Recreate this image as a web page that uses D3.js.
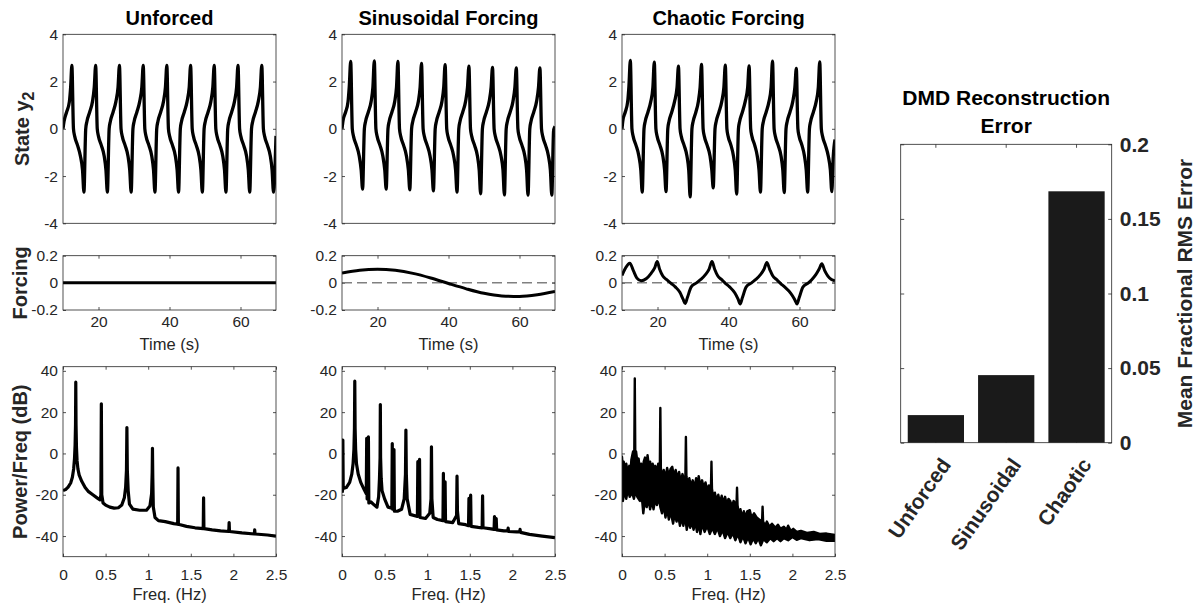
<!DOCTYPE html>
<html><head><meta charset="utf-8">
<script src="https://cdn.jsdelivr.net/npm/d3@7"></script>
<style>
body{margin:0;background:#fff;}
svg{display:block;font-family:"Liberation Sans",Arial,Helvetica,sans-serif;}
</style></head><body>
<svg id="c" width="1201" height="608"></svg>
<script>
// ---------------- DATA ----------------
const panelTitles = ["Unforced", "Sinusoidal Forcing", "Chaotic Forcing"];
const stateTicks = [-4, -2, 0, 2, 4];
const forceTicks = [-0.2, 0, 0.2];
const timeTicks = [20, 40, 60];
const freqTicks = [0, 0.5, 1, 1.5, 2, 2.5];
const specTicks = [-40, -20, 0, 20, 40];
const timeDomain = [10, 70];
const stateDomain = [-4, 4];
const forceDomain = [-0.2, 0.2];
const freqDomain = [0, 2.5];
const specDomain = [-50, 42];

// state y2 (time s, value)
const stateUnforced = [
[10,0],[10.3,0.32],[11,0.7],[11.8,1.15],[12.15,1.75],
[12.5,2.68],[12.95,0],[13.3,-0.32],[14.1,-0.7],[14.9,-1.15],[15.5,-1.75],[15.9,-2.68],[16.4,0],[16.75,0.32],[17.5,0.7],[18.3,1.15],[18.8,1.75],
[19.2,2.68],[19.65,0],[20,-0.32],[20.8,-0.7],[21.6,-1.15],[22.1,-1.75],[22.5,-2.68],[23,0],[23.35,0.32],[24.1,0.7],[24.9,1.15],[25.5,1.75],
[25.9,2.68],[26.35,0],[26.7,-0.32],[27.5,-0.7],[28.3,-1.15],[28.8,-1.75],[29.2,-2.68],[29.7,0],[30.05,0.32],[30.8,0.7],[31.6,1.15],[32.2,1.75],
[32.6,2.68],[33.05,0],[33.4,-0.32],[34.2,-0.7],[35,-1.15],[35.5,-1.75],[35.9,-2.68],[36.4,0],[36.75,0.32],[37.5,0.7],[38.3,1.15],[38.85,1.75],
[39.25,2.68],[39.7,0],[40.05,-0.32],[40.85,-0.7],[41.65,-1.15],[42.15,-1.75],[42.55,-2.68],[43.05,0],[43.4,0.32],[44.15,0.7],[44.95,1.15],[45.55,1.75],
[45.95,2.68],[46.4,0],[46.75,-0.32],[47.55,-0.7],[48.35,-1.15],[48.85,-1.75],[49.25,-2.68],[49.75,0],[50.1,0.32],[50.85,0.7],[51.65,1.15],[52.2,1.75],
[52.6,2.68],[53.05,0],[53.4,-0.32],[54.2,-0.7],[55,-1.15],[55.5,-1.75],[55.9,-2.68],[56.4,0],[56.75,0.32],[57.5,0.7],[58.3,1.15],[58.9,1.75],
[59.3,2.68],[59.75,0],[60.1,-0.32],[60.9,-0.7],[61.7,-1.15],[62.2,-1.75],[62.6,-2.68],[63.1,0],[63.45,0.32],[64.2,0.7],[65,1.15],[65.6,1.75],
[66,2.68],[66.45,0],[66.8,-0.32],[67.6,-0.7],[68.4,-1.15],[68.9,-1.75],[69.3,-2.68],[70,-0.3]
];
const stateSinusoidal = [
[10,0],[10.3,0.35],[11,0.7],[11.7,1.15],[12.05,1.8],
[12.45,2.85],[12.9,0],[13.25,-0.32],[14.05,-0.7],[14.85,-1.15],[15.4,-1.75],[15.8,-2.55],[16.3,0],[16.65,0.32],[17.4,0.7],[18.2,1.15],[18.7,1.75],
[19.1,2.87],[19.55,0],[19.9,-0.32],[20.7,-0.7],[21.5,-1.15],[22.05,-1.75],[22.45,-2.55],[22.95,0],[23.3,0.32],[24.05,0.7],[24.85,1.15],[25.35,1.75],
[25.75,2.85],[26.2,0],[26.55,-0.32],[27.35,-0.7],[28.15,-1.15],[28.7,-1.75],[29.1,-2.58],[29.6,0],[29.95,0.32],[30.7,0.7],[31.5,1.15],[32,1.75],
[32.4,2.77],[32.85,0],[33.2,-0.32],[34,-0.7],[34.8,-1.15],[35.35,-1.75],[35.75,-2.63],[36.25,0],[36.6,0.32],[37.35,0.7],[38.15,1.15],[38.65,1.75],
[39.05,2.72],[39.5,0],[39.85,-0.32],[40.65,-0.7],[41.45,-1.15],[42,-1.75],[42.4,-2.68],[42.9,0],[43.25,0.32],[44,0.7],[44.8,1.15],[45.35,1.75],
[45.75,2.65],[46.2,0],[46.55,-0.32],[47.35,-0.7],[48.15,-1.15],[48.65,-1.75],[49.05,-2.75],[49.55,0],[49.9,0.32],[50.65,0.7],[51.45,1.15],[52,1.75],
[52.4,2.6],[52.85,0],[53.2,-0.32],[54,-0.7],[54.8,-1.15],[55.35,-1.75],[55.75,-2.8],[56.25,0],[56.6,0.32],[57.35,0.7],[58.15,1.15],[58.7,1.75],
[59.1,2.58],[59.55,0],[59.9,-0.32],[60.7,-0.7],[61.5,-1.15],[62,-1.75],[62.4,-2.81],[62.9,0],[63.25,0.32],[64,0.7],[64.8,1.15],[65.35,1.75],
[65.75,2.58],[66.2,0],[66.55,-0.32],[67.35,-0.7],[68.15,-1.15],[68.7,-1.75],[69.1,-2.81],[69.6,-0.1],[70,0.1]
];
const stateChaotic = [
[10,0],[10.25,0.35],[10.9,0.7],[11.6,1.15],[11.95,1.8],
[12.35,2.89],[12.8,0],[13.15,-0.32],[13.95,-0.7],[14.75,-1.15],[15.3,-1.75],[15.7,-2.68],[16.2,0],[16.55,0.32],[17.3,0.7],[18.1,1.15],[18.7,1.75],
[19.1,2.82],[19.55,0],[19.9,-0.32],[20.7,-0.7],[21.5,-1.15],[22,-1.75],[22.4,-2.66],[22.9,0],[23.25,0.32],[24,0.7],[24.8,1.15],[25.5,1.75],
[25.9,2.65],[26.35,0],[26.7,-0.32],[27.5,-0.7],[28.3,-1.15],[28.8,-1.75],[29.2,-2.88],[29.7,0],[30.05,0.32],[30.8,0.7],[31.5,1.15],[32,1.75],
[32.4,2.73],[32.85,0],[33.2,-0.32],[34,-0.7],[34.8,-1.15],[35.3,-1.75],[35.7,-2.5],[36.2,0],[36.55,0.32],[37.3,0.7],[38.1,1.15],[38.7,1.75],
[39.1,2.69],[39.55,0],[39.9,-0.32],[40.7,-0.7],[41.4,-1.15],[41.9,-1.75],[42.3,-2.76],[42.8,0],[43.15,0.32],[43.9,0.7],[44.7,1.15],[45.4,1.75],
[45.8,2.66],[46.25,0],[46.6,-0.32],[47.4,-0.7],[48.1,-1.15],[48.6,-1.75],[49,-2.68],[49.5,0],[49.85,0.32],[50.6,0.7],[51.4,1.15],[52,1.75],
[52.4,2.86],[52.85,0],[53.2,-0.32],[54,-0.7],[54.8,-1.15],[55.3,-1.75],[55.7,-2.7],[56.2,0],[56.55,0.32],[57.3,0.7],[58.1,1.15],[58.7,1.75],
[59.1,2.56],[59.55,0],[59.9,-0.32],[60.7,-0.7],[61.4,-1.15],[61.9,-1.75],[62.3,-2.68],[62.8,0],[63.15,0.32],[63.9,0.7],[64.7,1.15],[65.3,1.75],
[65.7,2.83],[66.15,0],[66.5,-0.32],[67.3,-0.7],[68.1,-1.15],[68.7,-1.75],[69.1,-2.66],[69.5,-1.2],[70,-0.45]
];

// forcing (time s, value)
const forcingUnforced = [[10,0],[70,0]];
const forcingSinusoidal = [[10,0.072],[15,0.093],[20,0.1],[25,0.092],[30,0.07],[35,0.036],[40,-0.005],[45,-0.044],[50,-0.077],[55,-0.096],[60,-0.1],[65,-0.088],[70,-0.064]];
const forcingChaotic = [
[10,0.055],[11,0.11],[12.2,0.145],[13.2,0.09],[14.2,0.035],[15.4,0.015],[16.8,0.03],[18.2,0.07],[19.2,0.11],[19.9,0.157],[20.6,0.1],[21.5,0.05],[22.5,0.025],[23.9,-0.005],[25,-0.03],[26.3,-0.07],[27.2,-0.12],[27.8,-0.152],[28.4,-0.11],[29.5,-0.03],[31,0],[32.2,0.025],[33.5,0.06],[34.5,0.1],[35.35,0.157],[36.1,0.1],[37,0.05],[38,0.025],[39.2,-0.005],[40.3,-0.03],[41.8,-0.075],[42.7,-0.12],[43.3,-0.155],[43.9,-0.11],[45,-0.03],[46.5,0],[47.7,0.025],[49,0.06],[50,0.1],[50.8,0.15],[51.6,0.1],[52.5,0.05],[53.5,0.025],[54.7,-0.005],[55.8,-0.03],[57.5,-0.075],[58.6,-0.12],[59.3,-0.155],[59.9,-0.11],[61,-0.03],[62.5,0],[63.5,0.025],[64.6,0.06],[65.5,0.1],[66.3,0.14],[67.1,0.09],[68,0.05],[69,0.025],[70,0.015]
];

// spectra (Hz, dB)
const spectrumUnforced = [
[0,-18],[0.03,-17.5],[0.06,-16.3],[0.09,-14.3],[0.11,-11.5],[0.125,-7.5],[0.135,-2.5],[0.142,4],[0.147,14],[0.15,34.5],[0.153,14],[0.158,3],[0.165,-3.5],[0.175,-7.5],[0.19,-10.5],[0.22,-13.5],[0.26,-16.5],[0.3,-18.5],[0.35,-20],[0.4,-21.5],[0.435,-22.5],[0.445,-20],[0.45,24],[0.455,-20],[0.47,-24],[0.5,-25],[0.55,-26],[0.6,-26.5],[0.65,-26.3],[0.69,-25],[0.72,-21.5],[0.735,-16.5],[0.745,-8],[0.75,12.5],[0.755,-8],[0.765,-18],[0.78,-24.5],[0.82,-27],[0.9,-27.5],[0.98,-27.5],[1.02,-25.5],[1.04,-19.5],[1.047,-9],[1.05,2.5],[1.054,-12],[1.06,-26],[1.08,-31],[1.12,-32.5],[1.2,-33],[1.3,-34],[1.346,-34.3],[1.35,-7],[1.354,-34.3],[1.45,-35.3],[1.55,-36],[1.646,-36.4],[1.65,-21.5],[1.654,-36.4],[1.75,-37],[1.85,-37.5],[1.946,-37.8],[1.95,-33.5],[1.954,-37.8],[2.1,-38.5],[2.246,-39],[2.25,-37],[2.254,-39],[2.4,-39.5],[2.5,-40]
];
const spectrumSinusoidal = [
[0,-19],[0.006,-18],[0.01,6.5],[0.014,-17],[0.05,-16.5],[0.09,-14],[0.115,-10],[0.13,-5],[0.14,2],[0.146,12],[0.15,35],[0.154,12],[0.16,2],[0.17,-5],[0.19,-10],[0.22,-14],[0.26,-17.5],[0.285,-19.5],[0.29,7.3],[0.295,-22],[0.305,-22],[0.31,8],[0.315,-24],[0.34,-23.5],[0.38,-25],[0.41,-26],[0.43,-21],[0.44,-12],[0.447,-2],[0.45,23.7],[0.453,-2],[0.46,-12],[0.47,-18],[0.5,-22],[0.54,-26],[0.585,-26.5],[0.59,4.8],[0.595,-27],[0.605,-27],[0.61,1.9],[0.615,-28],[0.65,-28],[0.7,-27],[0.73,-22],[0.745,-10],[0.75,11.3],[0.755,-10],[0.765,-22],[0.8,-29.5],[0.885,-30.5],[0.89,-4],[0.895,-30],[0.905,-30],[0.91,-2.9],[0.915,-31],[0.98,-31.5],[1.03,-29],[1.045,-22],[1.05,3.2],[1.055,-22],[1.07,-31],[1.12,-32],[1.185,-32.5],[1.19,-9.7],[1.195,-32.5],[1.205,-32.5],[1.21,-13.7],[1.215,-33],[1.3,-33.5],[1.345,-30],[1.35,-11],[1.355,-28],[1.37,-34],[1.45,-34.5],[1.485,-35],[1.49,-21.8],[1.495,-35],[1.505,-35],[1.51,-20.2],[1.515,-35.3],[1.6,-35.8],[1.645,-36],[1.65,-20.5],[1.655,-36],[1.75,-36.5],[1.785,-36.8],[1.79,-30.6],[1.795,-36.8],[1.805,-36.8],[1.81,-31.5],[1.815,-37],[1.9,-37.5],[1.945,-37.5],[1.95,-36.2],[1.955,-37.8],[2.05,-38],[2.085,-38],[2.09,-36.8],[2.095,-38.2],[2.2,-39.2],[2.35,-40],[2.5,-40.8]
];
// chaotic spectrum: dense noisy band, upper and lower envelope
const spectrumChaoticUpper = [
[0,-1.6],[0.01,-8],[0.02,-4],[0.035,-9],[0.05,-5],[0.07,-10],[0.085,-6],[0.1,-9],[0.11,-3],[0.12,-1],[0.13,1],[0.144,-1],[0.15,36.3],[0.156,-1],[0.165,1],[0.18,-4],[0.195,-2.5],[0.21,-8],[0.225,-5],[0.24,-10],[0.255,-4],[0.27,-2],[0.285,-7],[0.3,-0.8],[0.315,-6],[0.33,-4],[0.345,-9],[0.36,-5],[0.375,-10],[0.39,-6],[0.41,-9],[0.425,-5],[0.444,-7],[0.45,22],[0.456,-7],[0.47,-12],[0.49,-8],[0.51,-12],[0.53,-7],[0.55,-11],[0.57,-7.5],[0.59,-6.5],[0.61,-11],[0.63,-8],[0.65,-12],[0.67,-9],[0.69,-14],[0.71,-10],[0.73,-13],[0.744,-11],[0.75,8],[0.756,-11],[0.77,-15],[0.79,-12],[0.81,-16],[0.83,-13],[0.85,-17],[0.87,-12],[0.89,-15],[0.9,-11],[0.92,-16],[0.94,-13],[0.96,-17],[0.98,-14],[1,-18],[1.02,-15.5],[1.044,-17],[1.05,-4],[1.056,-17],[1.07,-21],[1.09,-19],[1.11,-23],[1.13,-20],[1.15,-24],[1.17,-20.5],[1.19,-24],[1.21,-21],[1.23,-25],[1.25,-22],[1.27,-23],[1.29,-26],[1.31,-23],[1.344,-25],[1.35,-16.6],[1.356,-25],[1.37,-29],[1.39,-27],[1.41,-31],[1.43,-28],[1.45,-31],[1.47,-28],[1.5,-27.5],[1.52,-31],[1.55,-29],[1.58,-31],[1.61,-32],[1.644,-33],[1.65,-25.8],[1.656,-33],[1.68,-35],[1.7,-33],[1.73,-35.5],[1.76,-34],[1.8,-36],[1.83,-34.5],[1.86,-36.5],[1.9,-35.5],[1.93,-37],[1.95,-35],[1.98,-37.5],[2.01,-36.5],[2.05,-38],[2.1,-37.5],[2.17,-38.5],[2.25,-38],[2.32,-39],[2.4,-38.8],[2.5,-39.5]
];
const spectrumChaoticLower = [
[0,-9.7],[0.01,-23],[0.03,-18],[0.05,-22],[0.07,-17],[0.09,-21],[0.12,-19],[0.14,-22],[0.16,-18],[0.18,-21],[0.21,-23],[0.23,-20],[0.25,-29],[0.27,-22],[0.29,-26],[0.31,-22],[0.33,-27],[0.35,-23],[0.37,-27],[0.39,-22],[0.41,-25],[0.43,-21],[0.45,-26],[0.47,-29],[0.49,-25],[0.51,-31],[0.53,-27],[0.55,-32],[0.57,-28],[0.6,-34],[0.62,-29],[0.64,-33],[0.66,-30],[0.68,-35],[0.7,-31],[0.72,-35],[0.74,-30],[0.76,-37],[0.78,-32],[0.8,-36],[0.82,-33],[0.84,-37],[0.86,-33],[0.88,-38],[0.9,-34],[0.92,-39],[0.94,-34],[0.97,-38],[1,-35],[1.03,-39],[1.06,-36],[1.09,-39],[1.12,-36],[1.15,-40],[1.18,-37],[1.21,-41],[1.24,-38],[1.27,-41],[1.3,-38.5],[1.33,-42],[1.36,-39],[1.39,-43],[1.42,-40],[1.45,-43.5],[1.48,-40.5],[1.51,-44],[1.54,-41],[1.57,-43.5],[1.6,-41],[1.63,-44.5],[1.66,-41.5],[1.7,-43],[1.74,-41],[1.78,-42.5],[1.82,-41],[1.86,-42.5],[1.9,-41],[1.95,-42],[2,-40.5],[2.05,-41.8],[2.1,-41],[2.2,-42],[2.3,-41.5],[2.4,-42.3],[2.5,-42.3]
];

// bar chart
const barCategories = ["Unforced", "Sinusoidal", "Chaotic"];
const barErrors = [0.0185, 0.0453, 0.1685];
const barTicks = [0, 0.05, 0.1, 0.15, 0.2];
const barDomain = [0, 0.2];

// ---------------- LAYOUT / STYLE ----------------
const svg = d3.select("#c");
const AX = "#262626";
const cols = [[63,276],[342,555],[622,835]];
const rows = {state:[34.3,223.3], force:[255.7,310], spec:[366.7,556.7]};
const TICK_FS = 15.5;
const fmt = d => String(d);

function styleAxis(g, fs, fw){
  g.attr("font-family", null).attr("font-size", null);
  g.select(".domain").remove();
  g.selectAll(".tick line").attr("stroke", AX).attr("stroke-width", 0.8);
  g.selectAll(".tick text").attr("fill", AX).style("font-size", fs + "px").style("font-weight", fw || "normal");
  return g;
}

function panel(ci, rowKey, xDom, yDom, xt, yt, xLabels, xPad){
  const [x0,x1] = cols[ci]; const [y0,y1] = rows[rowKey];
  const x = d3.scaleLinear().domain(xDom).range([x0,x1]);
  const y = d3.scaleLinear().domain(yDom).range([y1,y0]);
  const g = svg.append("g");
  const id = `clip-${rowKey}-${ci}`;
  svg.append("clipPath").attr("id", id).append("rect")
    .attr("x", x0).attr("y", y0).attr("width", x1-x0).attr("height", y1-y0);
  g.append("rect").attr("x", x0).attr("y", y0).attr("width", x1-x0).attr("height", y1-y0)
    .attr("fill", "#fff");
  styleAxis(g.append("g").attr("transform", `translate(${x0},0)`)
    .call(d3.axisLeft(y).tickValues(yt).tickSizeInner(-3).tickSizeOuter(0).tickPadding(5).tickFormat(fmt)), TICK_FS);
  styleAxis(g.append("g").attr("transform", `translate(${x1},0)`)
    .call(d3.axisRight(y).tickValues(yt).tickSizeInner(-3).tickSizeOuter(0).tickFormat(() => "")), TICK_FS);
  if (xt) {
    styleAxis(g.append("g").attr("transform", `translate(0,${y1})`)
      .call(d3.axisBottom(x).tickValues(xt).tickSizeInner(-3).tickSizeOuter(0).tickPadding(xPad)
        .tickFormat(xLabels ? fmt : () => "")), TICK_FS);
    styleAxis(g.append("g").attr("transform", `translate(0,${y0})`)
      .call(d3.axisTop(x).tickValues(xt).tickSizeInner(-3).tickSizeOuter(0).tickFormat(() => "")), TICK_FS);
  }
  const content = g.append("g").attr("clip-path", `url(#${id})`);
  g.append("rect").attr("x", x0).attr("y", y0).attr("width", x1-x0).attr("height", y1-y0)
    .attr("fill", "none").attr("stroke", AX).attr("stroke-width", 0.8);
  return {x, y, content, g, x0, x1, y0, y1};
}

function drawLine(p, data, width, curve){
  const line = d3.line().x(d => p.x(d[0])).y(d => p.y(d[1])).curve(curve || d3.curveLinear);
  p.content.append("path").datum(data).attr("d", line)
    .attr("fill", "none").attr("stroke", "#000").attr("stroke-width", width)
    .attr("stroke-linejoin", "round").attr("stroke-linecap", "butt");
}

const stateSeries = [stateUnforced, stateSinusoidal, stateChaotic];
const forceSeries = [forcingUnforced, forcingSinusoidal, forcingChaotic];

for (let ci = 0; ci < 3; ci++) {
  const ps = panel(ci, "state", timeDomain, stateDomain, null, stateTicks, false, 0);
  drawLine(ps, stateSeries[ci], 3.3, d3.curveMonotoneX);

  const pf = panel(ci, "force", timeDomain, forceDomain, timeTicks, forceTicks, true, 5.5);
  if (ci > 0) {
    pf.content.append("line").attr("x1", pf.x0).attr("x2", pf.x1)
      .attr("y1", pf.y(0)).attr("y2", pf.y(0))
      .attr("stroke", "#808080").attr("stroke-width", 1.5).attr("stroke-dasharray", "10,5");
  }
  drawLine(pf, forceSeries[ci], 3, d3.curveMonotoneX);

  const pp = panel(ci, "spec", freqDomain, specDomain, freqTicks, specTicks, true, 12);
  if (ci === 0) drawLine(pp, spectrumUnforced, 3.2);
  if (ci === 1) drawLine(pp, spectrumSinusoidal, 3.2);
  if (ci === 2) {
    const band = spectrumChaoticUpper.concat(spectrumChaoticLower.slice().reverse());
    const line = d3.line().x(d => pp.x(d[0])).y(d => pp.y(d[1]));
    pp.content.append("path").attr("d", line(band) + "Z")
      .attr("fill", "#000").attr("stroke", "#000").attr("stroke-width", 2.4).attr("stroke-linejoin", "round");
  }

  const cx = (cols[ci][0] + cols[ci][1]) / 2;
  svg.append("text").attr("x", cx).attr("y", 25).attr("text-anchor", "middle")
    .style("font-size", "20px").style("font-weight", "bold").attr("fill", "#000").text(panelTitles[ci]);
  svg.append("text").attr("x", cx).attr("y", 350).attr("text-anchor", "middle")
    .style("font-size", "16.5px").attr("fill", AX).text("Time (s)");
  svg.append("text").attr("x", cx).attr("y", 600).attr("text-anchor", "middle")
    .style("font-size", "16.5px").attr("fill", AX).text("Freq. (Hz)");
}

// y labels
const yl1 = svg.append("text").attr("transform", `translate(29,${(rows.state[0]+rows.state[1])/2}) rotate(-90)`)
  .attr("text-anchor", "middle").style("font-size", "20px").style("font-weight", "bold").attr("fill", AX);
yl1.append("tspan").text("State y");
yl1.append("tspan").attr("dy", "0.3em").style("font-size", "16px").text("2");
svg.append("text").attr("transform", `translate(27,${(rows.force[0]+rows.force[1])/2}) rotate(-90)`)
  .attr("text-anchor", "middle").style("font-size", "20px").style("font-weight", "bold").attr("fill", AX).text("Forcing");
svg.append("text").attr("transform", `translate(27,${(rows.spec[0]+rows.spec[1])/2}) rotate(-90)`)
  .attr("text-anchor", "middle").style("font-size", "20px").style("font-weight", "bold").attr("fill", AX).text("Power/Freq (dB)");

// ---------------- BAR CHART ----------------
const bx0 = 900.7, bx1 = 1111.7, by0 = 144.3, by1 = 442.7;
const xb = d3.scaleBand().domain(barCategories).range([bx0, bx1]).paddingInner(0.2).paddingOuter(0.1);
const yb = d3.scaleLinear().domain(barDomain).range([by1, by0]);
const bg = svg.append("g");
styleAxis(bg.append("g").attr("transform", `translate(${bx0},0)`)
  .call(d3.axisLeft(yb).tickValues(barTicks).tickSizeInner(-3.5).tickSizeOuter(0).tickFormat(() => "")), 21);
styleAxis(bg.append("g").attr("transform", `translate(${bx1},0)`)
  .call(d3.axisRight(yb).tickValues(barTicks).tickSizeInner(-3.5).tickSizeOuter(0).tickPadding(8).tickFormat(fmt)), 21, "bold");
styleAxis(bg.append("g").attr("transform", `translate(0,${by0})`)
  .call(d3.axisTop(xb).tickSizeInner(-3.5).tickSizeOuter(0).tickFormat(() => "")), 21);
const bottomAx = styleAxis(bg.append("g").attr("transform", `translate(0,${by1})`)
  .call(d3.axisBottom(xb).tickSizeInner(-3.5).tickSizeOuter(0)), 21, "bold");
bottomAx.selectAll(".tick text")
  .attr("x", 0).attr("y", 0).attr("dy", "0")
  .attr("text-anchor", "end")
  .attr("transform", "translate(16,22) rotate(-55)");

bg.selectAll("rect.bar").data(barErrors).join("rect").attr("class", "bar")
  .attr("x", (d, i) => xb(barCategories[i])).attr("width", xb.bandwidth())
  .attr("y", d => yb(d)).attr("height", d => yb(0) - yb(d))
  .attr("fill", "#1a1a1a");
bg.append("rect").attr("x", bx0).attr("y", by0).attr("width", bx1-bx0).attr("height", by1-by0)
  .attr("fill", "none").attr("stroke", AX).attr("stroke-width", 0.8);

svg.append("text").attr("x", (bx0+bx1)/2).attr("y", 105).attr("text-anchor", "middle")
  .style("font-size", "21px").style("font-weight", "bold").attr("fill", "#000").text("DMD Reconstruction");
svg.append("text").attr("x", (bx0+bx1)/2).attr("y", 133).attr("text-anchor", "middle")
  .style("font-size", "21px").style("font-weight", "bold").attr("fill", "#000").text("Error");
svg.append("text").attr("transform", `translate(1192,${(by0+by1)/2}) rotate(-90)`)
  .attr("text-anchor", "middle").style("font-size", "21px").style("font-weight", "bold").attr("fill", AX)
  .text("Mean Fractional RMS Error");
</script></body></html>
